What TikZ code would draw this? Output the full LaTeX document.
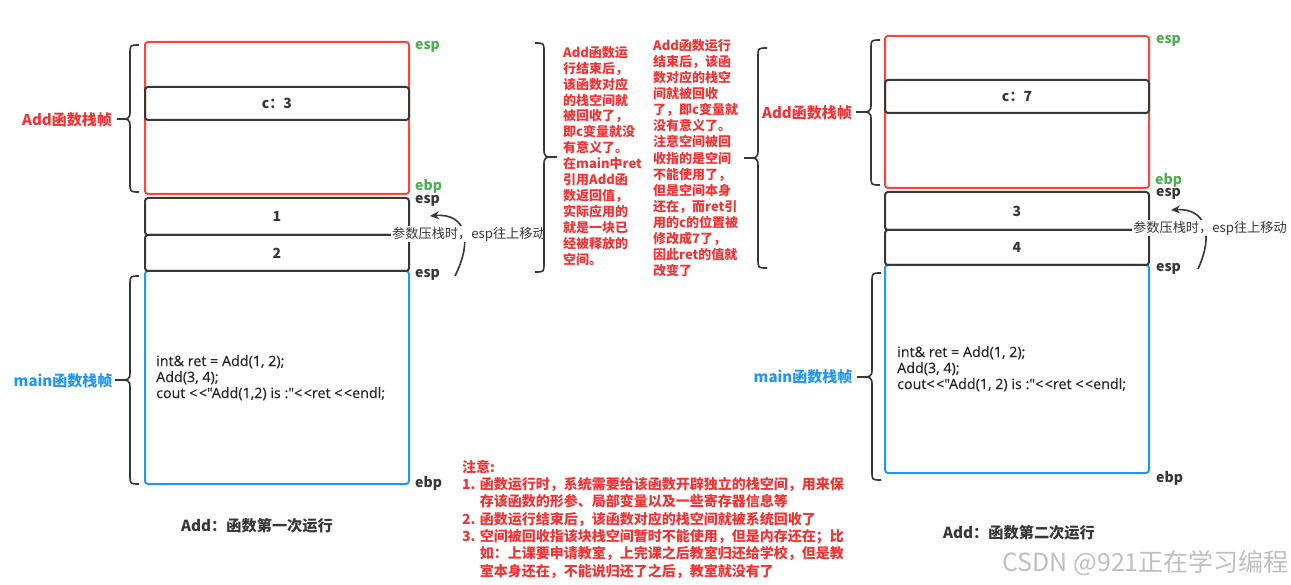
\documentclass[tikz,border=0pt]{standalone}
\usepackage{fontspec}
\setmainfont{Noto Sans CJK SC}
\newfontfamily\codefont{Open Sans}[FakeBold=0.5]
\usetikzlibrary{arrows.meta}
\definecolor{myred}{RGB}{242,72,64}
\definecolor{txtred}{RGB}{240,52,52}
\definecolor{mygreen}{RGB}{76,175,80}
\definecolor{myblue}{RGB}{33,150,243}
\definecolor{dark}{RGB}{55,55,55}
\newcommand\shl{<\kern1.5pt<}
\newcommand\mybraceL[5]{%
\draw[bracestyle] ({#1+9},#2) .. controls (#1,#2) .. (#1,{#2+9}) -- (#1,{#4-9}) .. controls (#1,#4) .. (#5,#4) .. controls (#1,#4) .. (#1,{#4+9}) -- (#1,{#3-9}) .. controls (#1,#3) .. ({#1+9},#3);}
\newcommand\mybraceR[5]{%
\draw[bracestyle] ({#1-9},#2) .. controls (#1,#2) .. (#1,{#2+9}) -- (#1,{#4-9}) .. controls (#1,#4) .. (#5,#4) .. controls (#1,#4) .. (#1,{#4+9}) -- (#1,{#3-9}) .. controls (#1,#3) .. ({#1-9},#3);}
\begin{document}
\begin{tikzpicture}[x=1pt,y=-1pt,
  frame/.style={draw, line width=2pt, rounded corners=3pt, minimum width=264pt, inner sep=0pt},
  redframe/.style={frame, draw=myred},
  blueframe/.style={frame, draw=myblue},
  cellbox/.style={frame, draw=dark, text=dark, font=\fontsize{14}{16}\selectfont\bfseries},
  bracestyle/.style={draw=dark, line width=1.6pt},
  reglabel/.style={font=\fontsize{15}{18}\selectfont\bfseries, inner sep=0pt},
  ptr/.style={anchor=west, inner sep=0pt, font=\fontsize{14}{16}\selectfont\bfseries},
  gptr/.style={ptr, text=mygreen},
  kptr/.style={ptr, text=dark},
  code/.style={anchor=north west, align=left, inner sep=0pt, text=black!85, font=\codefont\fontsize{14.3}{16}\selectfont},
  note/.style={anchor=north west, align=left, inner sep=0pt, text=txtred},
  captext/.style={font=\fontsize{15.2}{17}\selectfont\bfseries, text=dark, inner sep=0pt},
  movelabel/.style={fill=white, inner sep=1.2pt, text=dark, font=\fontsize{13.2}{15}\selectfont},
  movearrow/.style={draw=dark, line width=1.6pt, -{Stealth[length=9pt,width=8pt]}}
]
\useasboundingbox (0,0) rectangle (1291,585);

% ---------- left: first run ----------
\node[redframe, minimum height=152pt] (redL) at (277,118) {};
\node[cellbox, minimum height=33pt] (cL) at (277,103.5) {c：3};
\node[blueframe, minimum height=213pt] (blueL) at (277,377.5) {};
\node[cellbox, minimum height=36pt] (p2L) at (277,253) {2};
\node[cellbox, minimum height=37pt] (p1L) at (277,216.5) {1};

\mybraceL{130}{45}{192}{119}{117}
\mybraceL{130}{276}{484}{380}{115}
\node[reglabel, text=txtred] (addL) at (67,120) {Add函数栈帧};
\node[reglabel, text=myblue] (mainL) at (63,381) {main函数栈帧};

\node[gptr] (espL1) at (415,47) {esp};
\node[gptr] (ebpL1) at (415,186) {ebp};
\node[kptr] (espL2) at (415,201) {esp};
\node[kptr] (espL3) at (415,275) {esp};
\node[kptr] (ebpL2) at (415,483) {ebp};

\coordinate (arLs) at (455,276);
\coordinate (arLe) at (430,216);
\draw[movearrow] (arLs) .. controls (473,240) and (466,213) .. (arLe);
\node[movelabel] (mvL) at (469,234) {参数压栈时，esp往上移动};

\node[code] (codeL) at (156,355) {int\& ret = Add(1, 2);\\Add(3, 4);\\cout \shl"Add(1,2) is :"\shl ret \shl endl;};
\node[captext] (capL) at (257,526) {Add：函数第一次运行};

% ---------- middle notes ----------
\mybraceR{544}{43}{272}{157}{557}
\node[note, font=\fontsize{13}{15.9}\selectfont\bfseries] (note1) at (563,46)
{Add函数运\\行结束后，\\该函数对应\\的栈空间就\\被回收了，\\即c变量就没\\有意义了。\\在main中ret\\引用Add函\\数返回值，\\实际应用的\\就是一块已\\经被释放的\\空间。};
\node[note, font=\fontsize{13}{16.1}\selectfont\bfseries] (note2) at (653,39)
{Add函数运行\\结束后，该函\\数对应的栈空\\间就被回收\\了，即c变量就\\没有意义了。\\注意空间被回\\收指的是空间\\不能使用了，\\但是空间本身\\还在，而ret引\\用的c的位置被\\修改成7了，\\因此ret的值就\\改变了};
\mybraceL{758}{48}{268}{158}{744}

\node[note, font=\fontsize{14}{17.3}\selectfont\bfseries] (note3) at (462,460)
{注意:\\
1. 函数运行时，系统需要给该函数开辟独立的栈空间，用来保\\
\phantom{1. }存该函数的形参、局部变量以及一些寄存器信息等\\
2. 函数运行结束后，该函数对应的栈空间就被系统回收了\\
3. 空间被回收指该块栈空间暂时不能使用，但是内存还在；比\\
\phantom{3. }如：上课要申请教室，上完课之后教室归还给学校，但是教\\
\phantom{3. }室本身还在，不能说归还了之后，教室就没有了};

% ---------- right: second run ----------
\node[redframe, minimum height=152pt] (redR) at (1017,112) {};
\node[cellbox, minimum height=33pt] (cR) at (1017,96.5) {c：7};
\node[blueframe, minimum height=208pt] (blueR) at (1017,369) {};
\node[cellbox, minimum height=35pt] (p4R) at (1017,247.5) {4};
\node[cellbox, minimum height=38pt] (p3R) at (1017,211) {3};

\mybraceL{871}{40}{185}{112}{856}
\mybraceL{872}{273}{480}{377}{857}
\node[reglabel, text=txtred] (addR) at (807,113) {Add函数栈帧};
\node[reglabel, text=myblue] (mainR) at (803,377) {main函数栈帧};

\node[gptr] (espR1) at (1156,41) {esp};
\node[gptr] (ebpR1) at (1155,180) {ebp};
\node[kptr] (espR2) at (1156,194) {esp};
\node[kptr] (espR3) at (1156,269) {esp};
\node[kptr] (ebpR2) at (1156,478) {ebp};

\coordinate (arRs) at (1198,269);
\coordinate (arRe) at (1171,210);
\draw[movearrow] (arRs) .. controls (1214,234) and (1206,208) .. (arRe);
\node[movelabel] (mvR) at (1210,228) {参数压栈时，esp往上移动};

\node[code] (codeR) at (897,346) {int\& ret = Add(1, 2);\\Add(3, 4);\\cout\shl"Add(1, 2) is :"\shl ret \shl endl;};
\node[captext] (capR) at (1019,533) {Add：函数第二次运行};

\node[anchor=east, inner sep=0pt, text=black!25, font=\fontsize{25}{28}\selectfont] (wm) at (1289,563) {CSDN @921正在学习编程};
\end{tikzpicture}
\end{document}
